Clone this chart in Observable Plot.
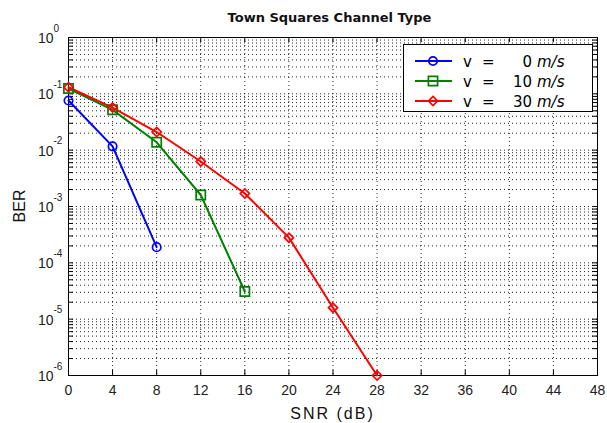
<!DOCTYPE html>
<html>
<head>
<meta charset="utf-8">
<script src="https://cdn.jsdelivr.net/npm/d3@7"></script>
<script src="https://cdn.jsdelivr.net/npm/@observablehq/plot@0.6"></script>
<style>
  html, body { margin: 0; padding: 0; background: #fff; }
  #wrap { position: relative; width: 607px; height: 423px; }
</style>
</head>
<body>
<div id="wrap"></div>
<script>
// ---- data ----
const snrValues = [0, 4, 8, 12, 16, 20, 24, 28];
const berV0  = [0.076, 0.0117, 1.9e-4];
const berV10 = [0.124, 0.052, 0.0138, 0.0016, 3.1e-5];
const berV30 = [0.131, 0.057, 0.021, 0.0063, 0.0017, 2.8e-4, 1.6e-5, 1.0e-6];
const seriesNames = ["v = 0 m/s", "v = 10 m/s", "v = 30 m/s"];
const seriesSpeeds = ["0", "10", "30"];
const seriesColors = ["#0000ff", "#008000", "#ff0000"];
const seriesSymbols = ["circle", "square", "diamond2"];
const seriesMarkerR = [4.2, 5.2, 4.1];
const xTickValues = [0, 4, 8, 12, 16, 20, 24, 28, 32, 36, 40, 44, 48];
const yTickExponents = [0, -1, -2, -3, -4, -5, -6];
const titleText = "Town Squares Channel Type";
const xLabel = "SNR (dB)";
const yLabel = "BER";

// ---- build table ----
const allSeries = [berV0, berV10, berV30];
const rows = [];
allSeries.forEach((vals, s) => vals.forEach((v, i) => rows.push({snr: snrValues[i], ber: v, series: seriesNames[s]})));

const yDecades = yTickExponents.map(e => Math.pow(10, e));
const yMinor = [];
for (let e = -6; e < 0; e++) for (let m = 1; m <= 9; m++) yMinor.push(m * Math.pow(10, e));
yMinor.push(1);

const W = 607, H = 423, ML = 68, MR = 10, MT = 37, MB = 48;
const fw = W - ML - MR, fh = H - MT - MB;
const tick = 5;

const dotMarks = seriesNames.map((name, i) =>
  Plot.dot(rows.filter(r => r.series === name), {x: "snr", y: "ber", stroke: seriesColors[i], symbol: seriesSymbols[i], r: seriesMarkerR[i], strokeWidth: 1.7, fill: "none"})
);

const chart = Plot.plot({
  width: W, height: H,
  marginLeft: ML, marginRight: MR, marginTop: MT, marginBottom: MB,
  style: {fontFamily: "'Liberation Sans', Arial, sans-serif", fontSize: "14px", background: "white", overflow: "visible"},
  x: {domain: [0, 48], axis: null},
  y: {type: "log", domain: [1e-6, 1], axis: null},
  color: {domain: seriesNames, range: seriesColors},
  marks: [
    // dotted grid
    Plot.ruleY(yMinor, {stroke: "#000", strokeWidth: 1, strokeDasharray: "1,3", strokeOpacity: 0.85}),
    Plot.ruleX(xTickValues.slice(1, -1), {stroke: "#000", strokeWidth: 1, strokeDasharray: "1,3", strokeOpacity: 0.85}),
    // inward ticks
    Plot.tickY(yMinor, {insetRight: fw - tick, stroke: "#000"}),
    Plot.tickY(yMinor, {insetLeft: fw - tick, stroke: "#000"}),
    Plot.tickX(xTickValues, {insetTop: fh - tick, stroke: "#000"}),
    Plot.tickX(xTickValues, {insetBottom: fh - tick, stroke: "#000"}),
    Plot.frame({stroke: "#000", strokeWidth: 1}),
    // x tick labels
    Plot.text(xTickValues, {x: d => d, y: () => 1e-6, text: d => String(d), dy: 15, fontSize: 14, fill: "#222"}),
    // y tick labels 10^k
    Plot.text(yDecades, {x: () => 0, y: d => d, text: () => "10", textAnchor: "end", dx: -15, dy: 1, fontSize: 14, fill: "#222"}),
    Plot.text(yTickExponents, {x: () => 0, y: d => Math.pow(10, d), text: d => String(d), textAnchor: "start", dx: -15, dy: -9, fontSize: 10, fill: "#222"}),
    // data
    Plot.line(rows, {x: "snr", y: "ber", z: "series", stroke: "series", strokeWidth: 2}),
    ...dotMarks
  ]
});

document.getElementById("wrap").appendChild(chart);
const svg = d3.select(chart);

// title
svg.append("text").attr("x", ML + fw / 2 - 3).attr("y", 22).attr("text-anchor", "middle")
  .style("font-family", "'DejaVu Sans', Verdana, sans-serif").style("font-size", "13px").style("font-weight", "bold")
  .attr("fill", "#111").text(titleText);
// axis labels
svg.append("text").attr("x", ML + fw / 2).attr("y", 419).attr("text-anchor", "middle")
  .style("font-size", "16px").style("letter-spacing", "2px").attr("fill", "#111").text(xLabel);
svg.append("text").attr("transform", `translate(25,${MT + fh / 2}) rotate(-90)`).attr("text-anchor", "middle")
  .style("font-size", "16px").attr("fill", "#111").text(yLabel);

// legend
const lg = svg.append("g");
lg.append("rect").attr("x", 403.5).attr("y", 44.5).attr("width", 189).attr("height", 67)
  .attr("fill", "white").attr("stroke", "#000").attr("stroke-width", 1);
const rowY = [61, 81, 101];
const symMap = {circle: d3.symbolCircle, square: d3.symbolSquare, diamond2: d3.symbolDiamond2};
seriesNames.forEach((name, i) => {
  const y = rowY[i];
  lg.append("line").attr("x1", 415).attr("x2", 452).attr("y1", y).attr("y2", y)
    .attr("stroke", seriesColors[i]).attr("stroke-width", 2);
  const size = Math.PI * seriesMarkerR[i] * seriesMarkerR[i];
  lg.append("path").attr("d", d3.symbol(symMap[seriesSymbols[i]], size)()).attr("transform", `translate(433,${y})`)
    .attr("fill", "none").attr("stroke", seriesColors[i]).attr("stroke-width", 1.7);
  const t = (x, s, anchor, italic) => lg.append("text").attr("x", x).attr("y", y + 5.5).attr("text-anchor", anchor)
    .style("font-family", "'DejaVu Sans', Verdana, sans-serif").style("font-size", "15px")
    .style("font-style", italic ? "italic" : "normal").attr("fill", "#000").text(s);
  t(463, "v", "start", false);
  t(482, "=", "start", false);
  t(532, seriesSpeeds[i], "end", false);
  t(537, "m/s", "start", true);
});
</script>
</body>
</html>
